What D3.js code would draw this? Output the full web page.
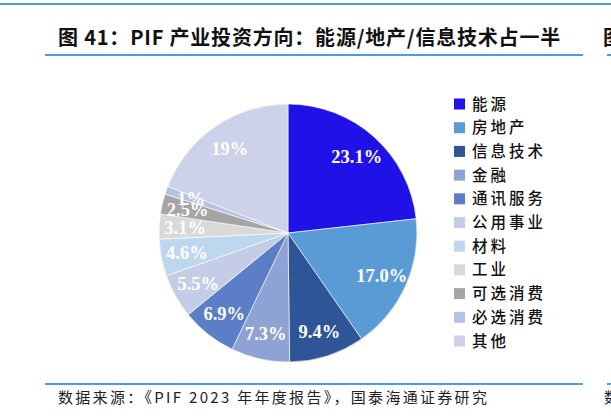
<!DOCTYPE html>
<html>
<head>
<meta charset="utf-8">
<script src="https://cdn.jsdelivr.net/npm/d3@7"></script>
<style>
  html, body { margin: 0; padding: 0; background: #fff; }
  svg { display: block; }
</style>
</head>
<body>
<svg id="chart" width="611" height="418"></svg>
<script>
const categories = ["能源", "房地产", "信息技术", "金融", "通讯服务", "公用事业", "材料", "工业", "可选消费", "必选消费", "其他"];
const values = [23.1, 17.0, 9.4, 7.3, 6.9, 5.5, 4.6, 3.1, 2.5, 1, 19];
const valueLabels = ["23.1%", "17.0%", "9.4%", "7.3%", "6.9%", "5.5%", "4.6%", "3.1%", "2.5%", "1%", "19%"];
const colors = ["#2012E6", "#5B9BD5", "#2E5597", "#8EA2D3", "#5B7EC6", "#C5CCE6", "#BDD7EE", "#D9D9D9", "#A5A5A5", "#B4C2E3", "#CDD2EA"];
const titleText = "图 41：PIF 产业投资方向：能源/地产/信息技术占一半";
const sourceText = "数据来源：《PIF 2023 年年度报告》，国泰海通证券研究";

const svg = d3.select("#chart");
const lineColor = "#4A9BE8";

// top rule
svg.append("rect").attr("x", 0).attr("y", 3).attr("width", 611).attr("height", 2).attr("fill", lineColor);

// title
svg.append("text").attr("x", 58).attr("y", 45)
  .attr("font-family", "'Noto Sans CJK SC', sans-serif")
  .attr("font-weight", 700).attr("font-size", 20).attr("letter-spacing", 0.8).attr("fill", "#111")
  .text(titleText);
svg.append("rect").attr("x", 45).attr("y", 54).attr("width", 538).attr("height", 2).attr("fill", lineColor);
// fragment of next panel
svg.append("text").attr("x", 603).attr("y", 45)
  .attr("font-family", "'Noto Sans CJK SC', sans-serif")
  .attr("font-weight", 700).attr("font-size", 20).attr("fill", "#111").text("图");
svg.append("rect").attr("x", 607).attr("y", 54).attr("width", 4).attr("height", 2).attr("fill", lineColor);

// pie
const cx = 288, cy = 233, R = 129;
const color = d3.scaleOrdinal().domain(categories).range(colors);
const pie = d3.pie().sort(null).value(d => d.v);
const data = categories.map((c, i) => ({ c, v: values[i], label: valueLabels[i] }));
const arcs = pie(data);
const arc = d3.arc().innerRadius(0).outerRadius(R);
const labelArc = d3.arc().innerRadius(103).outerRadius(103);

const g = svg.append("g").attr("transform", `translate(${cx},${cy})`);
g.selectAll("path").data(arcs).join("path")
  .attr("d", arc)
  .attr("fill", d => color(d.data.c))
  .attr("stroke", "#fff").attr("stroke-width", 0.6);

g.selectAll("text.lbl").data(arcs).join("text")
  .attr("class", "lbl")
  .attr("transform", d => `translate(${labelArc.centroid(d)})`)
  .attr("text-anchor", "middle")
  .attr("dy", "0.35em")
  .attr("font-family", "'Liberation Serif', 'Times New Roman', serif")
  .attr("font-weight", 700).attr("font-size", 18.5).attr("fill", "#fff")
  .text(d => d.data.label);

// legend
const legend = svg.append("g");
const ly = d3.scalePoint().domain(categories).range([104, 341]);
const items = legend.selectAll("g").data(categories).join("g")
  .attr("transform", d => `translate(454,${ly(d)})`);
items.append("rect").attr("x", 0).attr("y", -5.5).attr("width", 11).attr("height", 11)
  .attr("fill", d => color(d));
items.append("text").attr("x", 18).attr("y", 0).attr("dy", "0.36em")
  .attr("font-family", "'Noto Sans CJK SC', sans-serif")
  .attr("font-weight", 500).attr("font-size", 15.5).attr("letter-spacing", 3).attr("fill", "#111")
  .text(d => d);

// bottom rule and source
svg.append("rect").attr("x", 45).attr("y", 383).attr("width", 538).attr("height", 2).attr("fill", lineColor);
svg.append("rect").attr("x", 607).attr("y", 383).attr("width", 4).attr("height", 2).attr("fill", lineColor);
svg.append("text").attr("x", 58).attr("y", 403)
  .attr("font-family", "'Noto Sans CJK SC', 'Liberation Serif', serif")
  .attr("font-size", 15).attr("letter-spacing", 2.3).attr("fill", "#222")
  .text(sourceText);
svg.append("text").attr("x", 604).attr("y", 403)
  .attr("font-family", "'Noto Sans CJK SC', serif")
  .attr("font-size", 15).attr("fill", "#222").text("数");
</script>
</body>
</html>
